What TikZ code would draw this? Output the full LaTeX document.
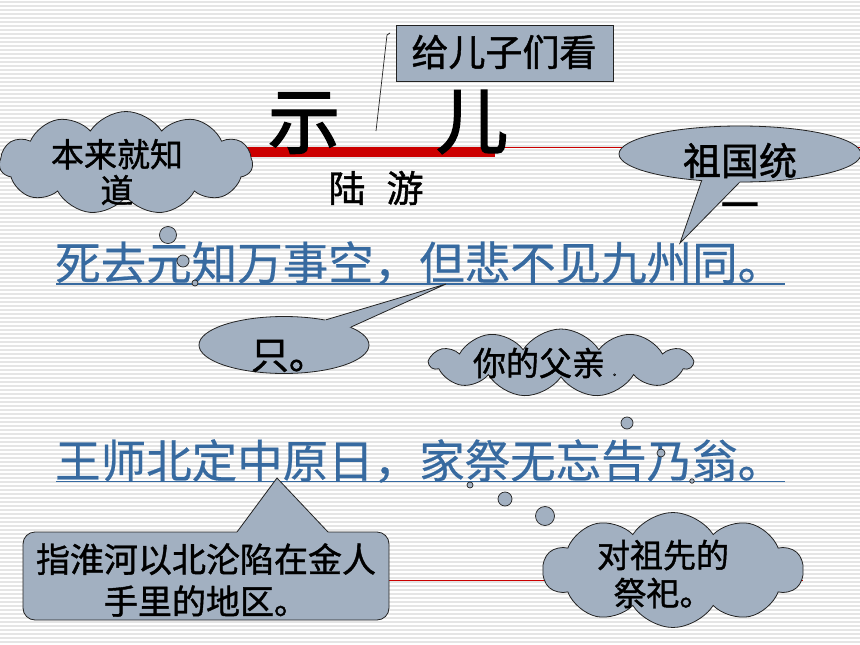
\documentclass[tikz,border=0pt]{standalone}
\usepackage{fontspec}
\setmainfont{Noto Sans CJK SC}
\newfontfamily\cjkb[FakeBold=1.2]{Noto Sans CJK SC}
\newfontfamily\cjkt[FakeBold=2.2]{Noto Sans CJK SC}
\newfontfamily\cjkp[FakeBold=0.5]{Noto Sans CJK SC}
\usetikzlibrary{shapes.symbols,shapes.geometric,calc}
\definecolor{callfill}{RGB}{162,176,193}
\definecolor{poemblue}{RGB}{55,106,160}
\definecolor{barred}{RGB}{204,0,0}
\definecolor{stripegray}{RGB}{229,229,229}
\definecolor{edgegray}{RGB}{35,35,35}
\begin{document}
\begin{tikzpicture}[x=1pt,y=-1pt,
  calloutedge/.style={draw=edgegray,line width=0.8pt},
  cloudsty/.style={cloud,cloud ignores aspect,draw=edgegray,fill=callfill,line width=0.8pt,inner sep=0pt},
  ellsty/.style={ellipse,draw=edgegray,fill=callfill,line width=0.8pt,inner sep=0pt},
  bubble/.style={circle,draw=edgegray,fill=callfill,line width=0.7pt,inner sep=0pt},
  labeltext/.style={inner sep=0pt,align=center,text=black},
  poem/.style={inner sep=0pt,text=poemblue,font=\cjkp\fontsize{45.5}{50}\selectfont,anchor=west},
  redthin/.style={draw=barred,line width=0.9pt},
  underl/.style={draw=poemblue,line width=1.6pt},
]
\useasboundingbox (0,0) rectangle (860,645);
\fill[white] (0,0) rectangle (860,645);
% striped background
\foreach \i in {0,...,161}{
  \fill[stripegray] (0,{\i*4+1}) rectangle (860,{\i*4+2.6});
}
% red rules
\draw[redthin] (495,147.5) -- (860,147.5);
\draw[redthin] (389,580) -- (803,580);
\fill[barred] (247,147) rectangle (495,157);
% title
\node[inner sep=0pt,font=\cjkt\fontsize{72}{72}\selectfont] (title) at (388,122) {示\hspace{96pt}儿};
\node[inner sep=0pt,font=\cjkb\fontsize{37}{37}\selectfont] (author) at (376,188) {陆\hspace{21pt}游};
% box callout
\node[rectangle,draw=edgegray,fill=callfill,line width=0.8pt,minimum width=217pt,minimum height=56pt,inner sep=0pt] (boxg) at (504.5,53) {};
\node[labeltext,font=\cjkb\fontsize{37}{37}\selectfont] (boxgt) at (504,52) {给儿子们看};
\coordinate (gl1) at (390,33);
\coordinate (gl2) at (387,35);
\coordinate (gl3) at (376,131);
\draw[draw=edgegray,line width=0.7pt] (gl1) -- (gl2) -- (gl3);
% poem lines
\node[poem] (poem1) at (55,263) {死去元知万事空，但悲不见九州同。};
\node[poem] (poem2) at (55,461) {王师北定中原日，家祭无忘告乃翁。};
\draw[underl] (56,284) -- (785,284);
\draw[underl] (56,481.5) -- (785,481.5);
% cloud: 本来就知道
\node[cloudsty,cloud puffs=11,cloud puff arc=115,minimum width=253pt,minimum height=103pt] (cloudA) at (126,163) {};
\node[labeltext,font=\cjkb\fontsize{33}{36}\selectfont] (cloudAt) at (117,172) {本来就知\\道};
\node[bubble,minimum size=17pt] (bA1) at (168,235) {};
\node[bubble,minimum size=12pt] (bA2) at (183,261) {};
\node[bubble,minimum size=6pt] (bA3) at (195,283) {};
% ellipse callout: 祖国统一
\node[ellsty,minimum width=242pt,minimum height=56pt] (ellB) at (740,154) {};
\coordinate (ellBtip) at (680,243);
\fill[callfill] (ellB.215) -- (ellBtip) -- (ellB.269) -- (ellB.center) -- cycle;
\draw[calloutedge] (ellB.215) -- (ellBtip) -- (ellB.269);
\node[labeltext,font=\cjkb\fontsize{38}{44}\selectfont] (ellBt) at (740,181) {祖国统\\一};
% ellipse callout: 只。
\node[ellsty,minimum width=170pt,minimum height=57pt] (ellC) at (284,345) {};
\coordinate (ellCtip) at (446,284);
\fill[callfill] (ellC.31) -- (ellCtip) -- (ellC.15) -- (ellC.center) -- cycle;
\draw[calloutedge] (ellC.31) -- (ellCtip) -- (ellC.15);
\node[labeltext,font=\cjkb\fontsize{38}{38}\selectfont] (ellCt) at (289,356) {只。};
% cloud: 你的父亲
\node[cloudsty,cloud puffs=11,cloud puff arc=115,minimum width=262pt,minimum height=68pt] (cloudD) at (561,363) {};
\node[labeltext,font=\cjkb\fontsize{33}{33}\selectfont] (cloudDt) at (547,363) {你的父亲\hspace{8pt}{\fontsize{8}{8}\selectfont 。}};
\node[bubble,minimum size=12pt] (bD1) at (627,423) {};
\node[bubble,minimum size=8pt] (bD2) at (661,453) {};
\node[bubble,minimum size=4.5pt] (bD3) at (692,481) {};
% rounded rectangle callout
\node[rectangle,rounded corners=12pt,draw=edgegray,fill=callfill,line width=0.8pt,minimum width=366pt,minimum height=88pt,inner sep=0pt] (rrE) at (206,576) {};
\coordinate (rrEb1) at (237,532);
\coordinate (rrEb2) at (328,532);
\coordinate (rrEtip) at (277,478);
\fill[callfill] (rrEb1) -- (rrEtip) -- (rrEb2) -- ($(rrEb2)+(0,3)$) -- ($(rrEb1)+(0,3)$) -- cycle;
\draw[calloutedge] (rrEb1) -- (rrEtip) -- (rrEb2);
\node[labeltext,font=\cjkb\fontsize{34}{42}\selectfont] (rrEt) at (206,580) {指淮河以北沦陷在金人\\手里的地区。};
% cloud: 对祖先的祭祀
\node[cloudsty,cloud puffs=10,cloud puff arc=115,minimum width=260pt,minimum height=115pt] (cloudF) at (673,570) {};
\node[labeltext,font=\cjkb\fontsize{33}{38}\selectfont] (cloudFt) at (663,574) {对祖先的\\祭祀。};
\node[bubble,minimum size=6pt] (bF1) at (470,485) {};
\node[bubble,minimum size=14pt] (bF2) at (505,499) {};
\node[bubble,minimum size=19pt] (bF3) at (545,516) {};
\end{tikzpicture}
\end{document}
